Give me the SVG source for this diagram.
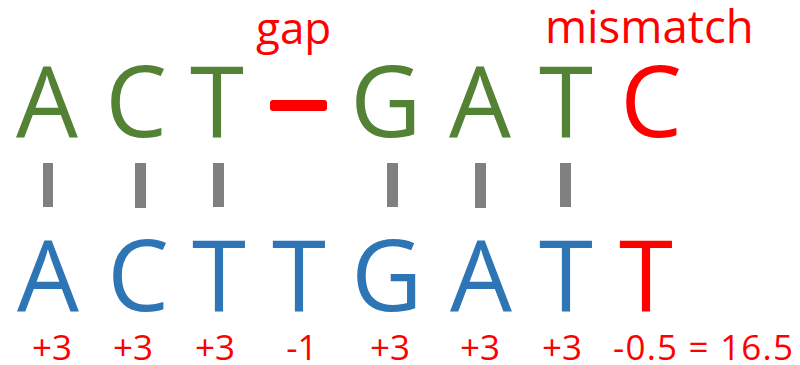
<svg xmlns="http://www.w3.org/2000/svg" width="800" height="365" viewBox="0 0 800 365">
<style>
text{font-family:"Open Sans","Liberation Sans",sans-serif;}
.big{font-size:98px;text-anchor:middle;}
.g{fill:#548235;}
.b{fill:#2E75B6;}
.r{fill:#FF0000;}
.lbl{font-size:44px;fill:#FF0000;}
.sc{font-size:35px;fill:#FF0000;text-anchor:middle;}
.bar{fill:#808080;}
</style>
<rect width="800" height="365" fill="#ffffff"/>
<g id="labels">
<text class="lbl" x="256" y="44">gap</text>
<text class="lbl" x="545" y="43" style="font-size:45.5px">mismatch</text>
</g>
<g id="top-row">
<text class="big g" x="47" y="137">A</text>
<text class="big g" x="136" y="137">C</text>
<text class="big g" x="217" y="137">T</text>
<rect class="r" x="270" y="100" width="57" height="11" rx="3"/>
<text class="big g" x="386" y="137">G</text>
<text class="big g" x="480" y="137">A</text>
<text class="big g" x="566" y="137">T</text>
<text class="big r" x="651" y="137">C</text>
</g>
<g id="connectors">
<rect class="bar" x="43" y="163" width="10" height="44"/>
<rect class="bar" x="135" y="163" width="11" height="45"/>
<rect class="bar" x="213" y="163" width="11" height="44"/>
<rect class="bar" x="387" y="163" width="11" height="44"/>
<rect class="bar" x="475" y="163" width="11" height="45"/>
<rect class="bar" x="560" y="163" width="11" height="44"/>
</g>
<g id="bottom-row">
<text class="big b" x="48" y="311">A</text>
<text class="big b" x="138" y="311">C</text>
<text class="big b" x="219" y="311">T</text>
<text class="big b" x="299" y="311">T</text>
<text class="big b" x="387" y="311">G</text>
<text class="big b" x="481" y="311">A</text>
<text class="big b" x="566" y="311">T</text>
<text class="big r" x="646" y="311">T</text>
</g>
<g id="scores">
<text class="sc" x="52" y="360">+3</text>
<text class="sc" x="133" y="360">+3</text>
<text class="sc" x="215" y="360">+3</text>
<text class="sc" x="302" y="360">-1</text>
<text class="sc" x="390" y="360">+3</text>
<text class="sc" x="480" y="360">+3</text>
<text class="sc" x="562" y="360">+3</text>
<text class="sc" x="613" y="360" style="text-anchor:start" textLength="180" lengthAdjust="spacing">-0.5 = 16.5</text>
</g>
</svg>
